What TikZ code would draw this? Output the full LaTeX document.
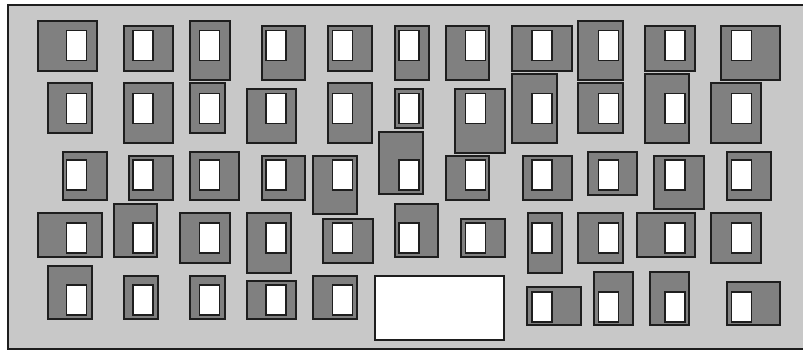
\documentclass[tikz,border=0pt]{standalone}
\usepackage{xcolor}
\definecolor{lyfloor}{RGB}{200,200,200}
\definecolor{lybox}{RGB}{128,128,128}
\definecolor{lyline}{RGB}{30,30,30}
\usepackage{tikz}
\usetikzlibrary{positioning}
\tikzset{
  cell/.style={draw=lyline,fill=lybox,line width=1.3pt},
  window/.style={draw=lyline,fill=white,line width=1.3pt,inner sep=0pt,minimum width=20pt,minimum height=30pt},
  plot/.style={draw=lyline,fill=white,line width=1.1pt}
}

\begin{document}
\begin{tikzpicture}[x=1pt,y=-1pt]
  \useasboundingbox (0,0) rectangle (803,352);
  % floor
  \fill[lyfloor] (8,5) rectangle (803,349);
  \draw[lyline,line width=1.3pt] (803,5) -- (8,5) -- (8,349) -- (803,349);
  % dark blocks, row by row
  \foreach \xa/\ya/\xb/\yb in {38/21/97/71,124/26/173/71,190/21/230/80,262/26/305/80,328/26/372/71,395/26/429/80,446/26/489/80,512/26/572/71,578/21/623/80,645/26/695/71,721/26/780/80}
    \draw[cell] (\xa,\ya) rectangle (\xb,\yb);
  \foreach \xa/\ya/\xb/\yb in {48/83/92/133,124/83/173/143,190/83/225/133,247/89/296/143,328/83/372/143,395/89/423/128,455/89/505/153,512/74/557/143,578/83/623/133,645/74/689/143,711/83/761/143}
    \draw[cell] (\xa,\ya) rectangle (\xb,\yb);
  \foreach \xa/\ya/\xb/\yb in {63/152/107/200,129/156/173/200,190/152/239/200,262/156/305/200,313/156/357/214,379/132/423/194,446/156/489/200,523/156/572/200,588/152/637/195,654/156/704/209,727/152/771/200}
    \draw[cell] (\xa,\ya) rectangle (\xb,\yb);
  \foreach \xa/\ya/\xb/\yb in {38/213/102/257,114/204/157/257,180/213/230/263,247/213/291/273,323/219/373/263,395/204/438/257,461/219/505/257,528/213/562/273,578/213/623/263,637/213/695/257,711/213/761/263}
    \draw[cell] (\xa,\ya) rectangle (\xb,\yb);
  \foreach \xa/\ya/\xb/\yb in {48/266/92/319,124/276/158/319,190/276/225/319,247/281/296/319,313/276/357/319,527/287/581/325,594/272/633/325,650/272/689/325,727/282/780/325}
    \draw[cell] (\xa,\ya) rectangle (\xb,\yb);
  % open plot
  \draw[plot] (375,276) rectangle (504,340);
  % white windows
  \foreach \r/\y in {1/45.5,2/108.5,3/175,4/238}
    \foreach \c in {1,...,11}
      \node[window] (w\r-\c) at ({10+66.5*\c},\y) {};
  \foreach \c in {1,...,5}
    \node[window] (w5-\c) at ({10+66.5*\c},300) {};
  \foreach \c in {8,...,11}
    \node[window] (w5-\c) at ({10+66.5*\c},307) {};
\end{tikzpicture}
\end{document}
